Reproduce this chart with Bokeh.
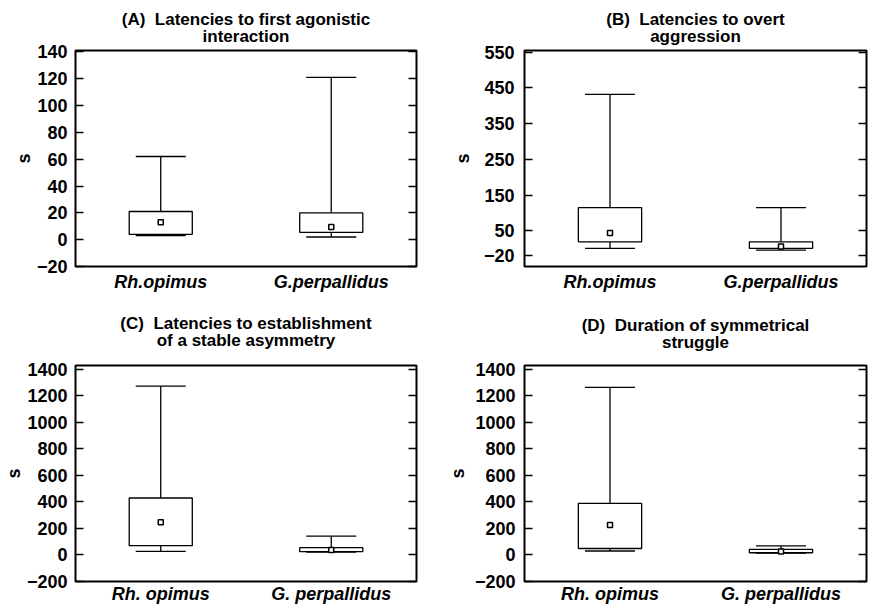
from bokeh.plotting import figure
from bokeh.models import (FactorRange, Range1d, FixedTicker, LinearAxis, Whisker,
                          TeeHead, ColumnDataSource, CustomJSTickFormatter, Title)
from bokeh.layouts import gridplot
from bokeh.embed import file_html
from bokeh.resources import INLINE

# ---------------- data ----------------
species_top = ["Rh.opimus", "G.perpallidus"]
species_bottom = ["Rh. opimus", "G. perpallidus"]

title_a = ["(A)\u00a0 Latencies to first agonistic", "interaction"]
title_b = ["(B)\u00a0 Latencies to overt", "aggression"]
title_c = ["(C)\u00a0 Latencies to establishment", "of a stable asymmetry"]
title_d = ["(D)\u00a0 Duration of symmetrical", "struggle"]

a_low = [3, 2]
a_q1 = [4, 5.5]
a_q3 = [21, 20]
a_high = [62, 121]
a_mean = [13, 9.5]
a_ticks = [-20, 0, 20, 40, 60, 80, 100, 120, 140]

b_low = [1, -4]
b_q1 = [19, 1]
b_q3 = [115, 19]
b_high = [432, 115]
b_mean = [44, 6]
b_ticks = [-20, 50, 150, 250, 350, 450, 550]

c_low = [28, 22]
c_q1 = [70, 25]
c_q3 = [430, 55]
c_high = [1275, 142]
c_mean = [248, 37]
c_ticks = [-200, 0, 200, 400, 600, 800, 1000, 1200, 1400]

d_low = [30, 15]
d_q1 = [49, 17]
d_q3 = [390, 42]
d_high = [1265, 69]
d_mean = [226, 26]
d_ticks = [-200, 0, 200, 400, 600, 800, 1000, 1200, 1400]

FONT = "Liberation Sans"


def panel(title, cats, low, q1, q3, high, mean, ticks, y0, y1, w, h,
          bl, br, bt, bb, tick_standoff, lab_standoff, x_standoff, title_gap):
    p = figure(width=w, height=h, x_range=FactorRange(factors=cats, range_padding=0),
               y_range=Range1d(y0, y1), output_backend="svg", toolbar_location=None,
               min_border_left=bl, min_border_right=br, min_border_top=bt,
               min_border_bottom=bb, background_fill_color="white",
               border_fill_color="white", title=None)
    p.xgrid.visible = False
    p.ygrid.visible = False
    p.outline_line_color = "black"
    p.outline_line_width = 2

    # two centred title lines: the second line sits nearest the frame
    for txt, so in ((title[1], title_gap), (title[0], -title_gap - 8)):
        p.add_layout(Title(text=txt, align="center", text_font=FONT,
                           text_font_size="17px", text_font_style="bold",
                           text_color="black", standoff=so), "above")

    src = ColumnDataSource(dict(x=cats, low=low, q1=q1, q3=q3, high=high, mean=mean))

    p.vbar(x="x", width=0.37, bottom="q1", top="q3", source=src,
           fill_color="white", line_color="black", line_width=1.3)
    p.add_layout(Whisker(base="x", lower="q3", upper="high", source=src,
                         line_color="black", line_width=1.3, lower_head=None,
                         upper_head=TeeHead(size=50, line_color="black", line_width=1.3)))
    p.add_layout(Whisker(base="x", lower="low", upper="q1", source=src,
                         line_color="black", line_width=1.3, upper_head=None,
                         lower_head=TeeHead(size=50, line_color="black", line_width=1.3)))
    p.scatter(x="x", y="mean", source=src, marker="square", size=5,
              fill_color="white", line_color="black", line_width=1.5)

    overrides = {t: str(t).replace("-", "\u2212") for t in ticks if t < 0}
    ya = p.yaxis[0]
    ya.ticker = FixedTicker(ticks=ticks)
    ya.major_label_overrides = overrides
    ya.major_tick_in = 8
    ya.major_tick_out = 0
    ya.major_tick_line_width = 1.5
    ya.minor_tick_line_color = None
    ya.axis_line_color = None
    ya.major_label_standoff = tick_standoff
    ya.major_label_text_font = FONT
    ya.major_label_text_font_size = "18px"
    ya.major_label_text_font_style = "bold"
    ya.major_label_text_color = "black"
    ya.axis_label = "s"
    ya.axis_label_text_font = FONT
    ya.axis_label_text_font_size = "18px"
    ya.axis_label_text_font_style = "bold"
    ya.axis_label_text_color = "black"
    ya.axis_label_standoff = lab_standoff

    ra = LinearAxis(ticker=FixedTicker(ticks=ticks),
                    formatter=CustomJSTickFormatter(code="return ''"),
                    major_tick_in=8, major_tick_out=0, major_tick_line_width=1.5,
                    minor_tick_line_color=None, axis_line_color=None,
                    major_label_standoff=0)
    p.add_layout(ra, "right")

    xa = p.xaxis[0]
    xa.major_tick_line_color = None
    xa.major_tick_in = 0
    xa.major_tick_out = 0
    xa.minor_tick_line_color = None
    xa.axis_line_color = None
    xa.major_label_standoff = x_standoff
    xa.major_label_text_font = FONT
    xa.major_label_text_font_size = "18px"
    xa.major_label_text_font_style = "bold italic"
    xa.major_label_text_color = "black"
    return p


pa = panel(title_a, species_top, a_low, a_q1, a_q3, a_high, a_mean, a_ticks,
           -20, 141, 436, 300, 62, 20, 50, 34, 8, 0, 5, 9)
pb = panel(title_b, species_top, b_low, b_q1, b_q3, b_high, b_mean, b_ticks,
           -50, 555, 432, 300, 77, 2, 50, 34, 10, 8, 5, 9)
pc = panel(title_c, species_bottom, c_low, c_q1, c_q3, c_high, c_mean, c_ticks,
           -200, 1430, 436, 308, 72, 20, 65, 25, 8, 0, 2, 31)
pd_ = panel(title_d, species_bottom, d_low, d_q1, d_q3, d_high, d_mean, d_ticks,
            -200, 1430, 432, 308, 88, 2, 63, 27, 9, 4, 2, 27)

layout = gridplot([[pa, pb], [pc, pd_]], toolbar_location=None)

open("out.html", "w").write(file_html(layout, INLINE))
